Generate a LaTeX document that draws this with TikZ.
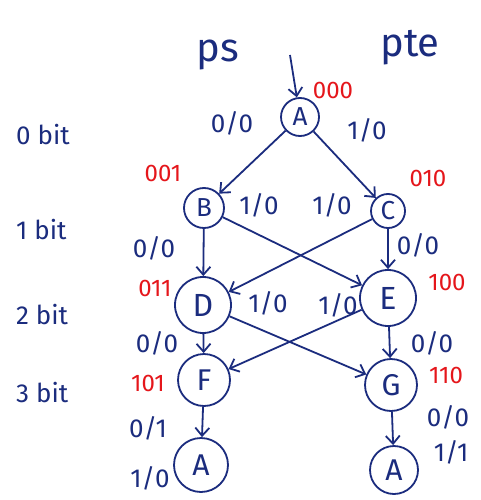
\documentclass[tikz,border=0pt]{standalone}
\usepackage{fontspec}
\setmainfont{Fira Sans}
\usetikzlibrary{arrows.meta}
\definecolor{ink}{HTML}{1B2C7E}
\definecolor{codered}{HTML}{E5161B}
\begin{document}
\begin{tikzpicture}[x=1pt,y=-1pt,
  state/.style={circle,draw=ink,line width=1.8pt,text=ink,inner sep=0pt,
    font=\fontsize{26}{26}\selectfont},
  trans/.style={draw=ink,line width=1.8pt,-{Straight Barb[length=8pt,width=14pt,line width=1.8pt]}},
  lbl/.style={text=ink,font=\fontsize{26}{26}\selectfont,inner sep=0pt},
  codelbl/.style={text=codered,font=\fontsize{24}{24}\selectfont,inner sep=0pt},
  head/.style={text=ink,font=\fontsize{40}{40}\selectfont,inner sep=0pt},
]
\useasboundingbox[fill=white] (0,0) rectangle (480,500);

% column headings
\node[head] (ps)  at (218,55) {ps};
\node[head] (pte) at (410,48) {pte};

% bit levels
\node[lbl,anchor=west] (b0) at (16,135) {0 bit};
\node[lbl,anchor=west] (b1) at (16,230) {1 bit};
\node[lbl,anchor=west] (b2) at (16,315) {2 bit};
\node[lbl,anchor=west] (b3) at (16,393) {3 bit};

% states
\node[state,minimum size=38pt] (A)  at (300,117) {A};
\node[state,minimum size=40pt] (B)  at (204,208) {B};
\node[state,minimum size=34pt] (C)  at (388,211) {C};
\node[state,minimum size=56pt,font=\fontsize{32}{32}\selectfont] (D)  at (203,305) {D};
\node[state,minimum size=56pt,font=\fontsize{32}{32}\selectfont] (E)  at (388,298) {E};
\node[state,minimum size=52pt,font=\fontsize{30}{30}\selectfont] (F)  at (204,380) {F};
\node[state,minimum size=52pt,font=\fontsize{30}{30}\selectfont] (G)  at (391,385) {G};
\node[state,minimum size=54pt,font=\fontsize{30}{30}\selectfont] (A1) at (201,465) {A};
\node[state,minimum size=48pt,font=\fontsize{30}{30}\selectfont] (A2) at (394,470) {A};

% state codes
\node[codelbl] (cA) at (333,90)  {000};
\node[codelbl] (cB) at (163,173) {001};
\node[codelbl] (cC) at (428,178) {010};
\node[codelbl] (cD) at (155,288) {011};
\node[codelbl] (cE) at (447,282) {100};
\node[codelbl] (cF) at (148,383) {101};
\node[codelbl] (cG) at (446,375) {110};

% entry
\coordinate (start) at (290,55);
\draw[trans] (start) -- (A);

% transitions
\draw[trans] (A) -- (B);
\draw[trans] (A) -- (C);
\draw[trans] (B) -- (D);
\draw[trans] (B) -- (E);
\draw[trans] (C) -- (D);
\draw[trans] (C) -- (E);
\draw[trans] (D) -- (F);
\draw[trans] (D) -- (G);
\draw[trans] (E) -- (F);
\draw[trans] (E) -- (G);
\draw[trans] (F) -- (A1);
\draw[trans] (G) -- (A2);

% transition labels
\node[lbl] (lAB) at (232,123) {0/0};
\node[lbl] (lAC) at (367,130) {1/0};
\node[lbl] (lBD) at (154,248) {0/0};
\node[lbl] (lBE) at (259,205) {1/0};
\node[lbl] (lCD) at (332,205) {1/0};
\node[lbl] (lCE) at (418,245) {0/0};
\node[lbl] (lDF) at (157,343) {0/0};
\node[lbl] (lDG) at (268,303) {1/0};
\node[lbl] (lEF) at (338,305) {1/0};
\node[lbl] (lEG) at (432,343) {0/0};
\node[lbl] (lFA0) at (148,428) {0/1};
\node[lbl] (lFA1) at (150,478) {1/0};
\node[lbl] (lGA0) at (448,417) {0/0};
\node[lbl] (lGA1) at (451,452) {1/1};
\end{tikzpicture}
\end{document}
